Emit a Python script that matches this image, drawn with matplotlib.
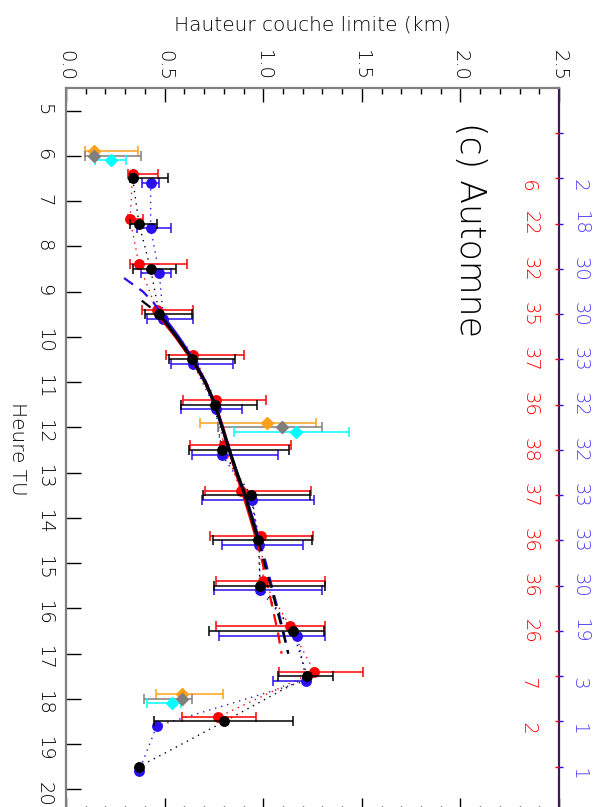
import numpy as np
import matplotlib
matplotlib.use('Agg')
import matplotlib.pyplot as plt

# hourly boundary-layer heights (km), half-hour bins
hours_blk = [6.5, 7.5, 8.5, 9.5, 10.5, 11.5, 12.5, 13.5, 14.5, 15.5, 16.5, 17.5, 18.5, 19.5]
blk = [0.338, 0.370, 0.429, 0.473, 0.641, 0.756, 0.789, 0.938, 0.975, 0.984, 1.149, 1.224, 0.803, 0.370]
blk_lo = [0.325, 0.325, 0.338, 0.401, 0.521, 0.581, 0.625, 0.696, 0.747, 0.751, 0.727, 1.077, 0.446, 0.370]
blk_hi = [0.519, 0.460, 0.558, 0.637, 0.857, 0.970, 1.132, 1.237, 1.249, 1.313, 1.308, 1.352, 1.149, 0.370]

hours_red = [6.5, 7.5, 8.5, 9.5, 10.5, 11.5, 12.5, 13.5, 14.5, 15.5, 16.5, 17.5, 18.5]
red = [0.338, 0.325, 0.370, 0.460, 0.646, 0.759, 0.801, 0.886, 0.989, 1.001, 1.136, 1.259, 0.772]
red_lo = [0.316, 0.316, 0.325, 0.384, 0.507, 0.595, 0.629, 0.705, 0.730, 0.759, 0.761, 1.082, 0.587]
red_hi = [0.468, 0.392, 0.612, 0.642, 0.903, 1.014, 1.139, 1.242, 1.254, 1.313, 1.313, 1.508, 0.962]
red_n = [6, 22, 32, 35, 37, 36, 38, 37, 36, 36, 26, 7, 2]

hours_blu = [6.5, 7.5, 8.5, 9.5, 10.5, 11.5, 12.5, 13.5, 14.5, 15.5, 16.5, 17.5, 18.5, 19.5]
blu = [0.429, 0.429, 0.473, 0.494, 0.646, 0.759, 0.789, 0.945, 0.980, 0.984, 1.173, 1.217, 0.460, 0.370]
blu_lo = [0.384, 0.362, 0.379, 0.413, 0.532, 0.581, 0.637, 0.691, 0.790, 0.752, 0.776, 1.048, 0.460, 0.370]
blu_hi = [0.473, 0.532, 0.532, 0.646, 0.849, 0.894, 1.073, 1.258, 1.203, 1.300, 1.313, 1.217, 0.460, 0.370]
blu_n = [2, 18, 30, 30, 33, 32, 32, 33, 33, 30, 19, 3, 1, 1]

# radiosonde values at 6, 12, 18 TU
hours_rs = [6, 12, 18]
ora = [0.144, 1.021, 0.587]
ora_lo = [0.096, 0.680, 0.456]
ora_hi = [0.363, 1.268, 0.795]
gry = [0.144, 1.095, 0.587]
gry_lo = [0.096, 0.772, 0.396]
gry_hi = [0.379, 1.300, 0.641]
cya = [0.228, 1.166, 0.536]
cya_lo = [0.147, 0.852, 0.409]
cya_hi = [0.306, 1.435, 0.583]

# fitted curves: (hour, height)
blk_fit_h = [9.5, 10.0, 10.5, 11.0, 11.5, 12.0, 12.5, 13.0, 13.5, 14.0, 14.5]
blk_fit = [0.473, 0.561, 0.641, 0.706, 0.756, 0.792, 0.828, 0.866, 0.908, 0.941, 0.975]
blk_pre_h = [9.2, 9.5]
blk_pre = [0.384, 0.473]
blk_post_h = [14.5, 15.0, 15.5, 16.0, 16.5, 17.0]
blk_post = [0.975, 1.006, 1.038, 1.068, 1.099, 1.127]

red_fit_h = [9.5, 10.0, 10.5, 11.0, 11.5, 12.0, 12.5, 13.0, 13.5, 14.0, 14.5]
red_fit = [0.465, 0.556, 0.638, 0.705, 0.757, 0.795, 0.828, 0.862, 0.900, 0.935, 0.968]
red_post_h = [14.5, 15.0, 15.5, 16.0, 16.5, 17.0]
red_post = [0.968, 0.997, 1.023, 1.048, 1.073, 1.093]

blu_fit_h = [9.5, 10.0, 10.5, 11.0, 11.5, 12.0, 12.5, 13.0, 13.5, 14.0, 14.5]
blu_fit = [0.485, 0.570, 0.645, 0.708, 0.756, 0.792, 0.828, 0.866, 0.908, 0.945, 0.980]
blu_pre_h = [8.7, 9.0, 9.25, 9.5]
blu_pre = [0.294, 0.390, 0.445, 0.485]
blu_post_h = [14.5, 15.0, 15.5, 16.0, 16.5, 17.0]
blu_post = [0.980, 1.014, 1.043, 1.073, 1.102, 1.127]

RED = '#ff0000'
BLUE = '#2a10ee'
ORANGE = '#ffa01a'
GRAY = '#7f7f7f'
CYAN = '#00ffff'

plt.rcParams['font.family'] = 'DejaVu Sans'
plt.rcParams['font.weight'] = 'light'

fig = plt.figure(figsize=(5.97, 8.07), dpi=100)
ax = fig.add_axes([0.1106, -0.0062, 0.8258, 0.8972])


def series(h, v, lo, hi, color, shift, marker='o', ms=6.8, z=3, dotted=True):
    h = np.array(h) + shift
    v = np.array(v)
    err = [v - np.array(lo), np.array(hi) - v]
    if dotted:
        ax.plot(v, h, color=color, lw=1.0, ls=(0, (1, 3.5)), zorder=2)
    ax.errorbar(v, h, xerr=err, fmt='none', ecolor=color, elinewidth=1.1,
                capsize=3.6, capthick=1.1, zorder=z)
    ax.plot(v, h, marker, color=color, ms=ms, mec=color, zorder=z + 0.5)


series(hours_rs, ora, ora_lo, ora_hi, ORANGE, -0.1, marker='D', ms=6.5, dotted=False)
series(hours_rs, gry, gry_lo, gry_hi, GRAY, 0.0, marker='D', ms=6.5, dotted=False)
series(hours_rs, cya, cya_lo, cya_hi, CYAN, 0.1, marker='D', ms=6.5, dotted=False)
series(hours_red, red, red_lo, red_hi, RED, -0.1)
series(hours_blu, blu, blu_lo, blu_hi, BLUE, 0.1)

# fits: solid inside the well-sampled hours, dashed outside
dash = (5, 3.5)
ax.plot(red_post, red_post_h, color=RED, lw=1.6, ls='--', dashes=dash, zorder=4)
ax.plot(blu_pre, blu_pre_h, color=BLUE, lw=1.6, ls='--', dashes=dash, zorder=4)
ax.plot(blu_post, blu_post_h, color=BLUE, lw=1.6, ls='--', dashes=dash, zorder=4)
ax.plot(blk_pre, blk_pre_h, color='black', lw=1.6, ls='--', dashes=dash, zorder=4)
ax.plot(blk_post, blk_post_h, color='black', lw=1.6, ls='--', dashes=dash, zorder=4)
ax.plot(red_fit, red_fit_h, color=RED, lw=2.2, zorder=4)
ax.plot(blu_fit, blu_fit_h, color=BLUE, lw=2.2, zorder=4)
ax.plot(blk_fit, blk_fit_h, color='black', lw=2.2, zorder=4.2)

series(hours_blk, blk, blk_lo, blk_hi, 'black', 0.0, z=5)

ax.set_xlim(0, 2.5)
ax.set_ylim(20.5, 4.5)

ax.xaxis.set_minor_locator(plt.MultipleLocator(0.1))
ax.set_xticks([0.0, 0.5, 1.0, 1.5, 2.0, 2.5])
ax.set_xticklabels(['0.0', '0.5', '1.0', '1.5', '2.0', '2.5'])
ax.tick_params(axis='x', which='both', top=True, bottom=True, labeltop=True,
               labelbottom=False, direction='in', labelrotation=-90,
               labelsize=14, pad=5, width=1.0, color='black')
ax.tick_params(axis='x', which='major', length=10)
ax.tick_params(axis='x', which='minor', length=4.3)

ax.set_yticks(range(5, 21))
ax.tick_params(axis='y', which='major', left=True, right=False, direction='in',
               length=11, width=1.0, labelrotation=-90, labelsize=14, pad=9)

for side in ['left', 'top', 'bottom']:
    ax.spines[side].set_color('#808080')
    ax.spines[side].set_linewidth(1.6)
ax.spines['right'].set_color('#3b1c5a')
ax.spines['right'].set_linewidth(1.6)

# sample counts on the right edge: red ticks inward, blue outward
half_hours = np.arange(5.5, 20.0, 1.0)
for col, direc in [(RED, 'in'), (BLUE, 'out')]:
    tw = ax.twinx()
    tw.set_ylim(20.5, 4.5)
    tw.set_yticks(half_hours)
    tw.tick_params(axis='y', which='major', direction=direc, length=3, width=1.0,
                   color=col, labelright=False, right=True, left=False)
    for s in tw.spines.values():
        s.set_visible(False)

ytr = ax.get_yaxis_transform()
for h, n in zip(hours_red, red_n):
    ax.text(0.941, h, f'{n:2d}'.replace(' ', '\u2007'), transform=ytr, color=RED,
            rotation=-90, ha='center', va='center', fontsize=14)
for h, n in zip(hours_blu, blu_n):
    ax.text(1.043, h, f'{n:2d}'.replace(' ', '\u2007'), transform=ytr, color='#4a3cff',
            rotation=-90, ha='center', va='center', fontsize=14, clip_on=False)

fig.text(312 / 597, 1 - 25 / 807, 'Hauteur couche limite (km)', ha='center',
         va='center', fontsize=14.5)
fig.text(17 / 597, 1 - 449 / 807, 'Heure TU', ha='center', va='center',
         rotation=-90, fontsize=14.5)
fig.text(470 / 597, 1 - 230 / 807, '(c) Automne', ha='center', va='center',
         rotation=-90, fontsize=25)

fig.savefig('out.png', dpi=100)
